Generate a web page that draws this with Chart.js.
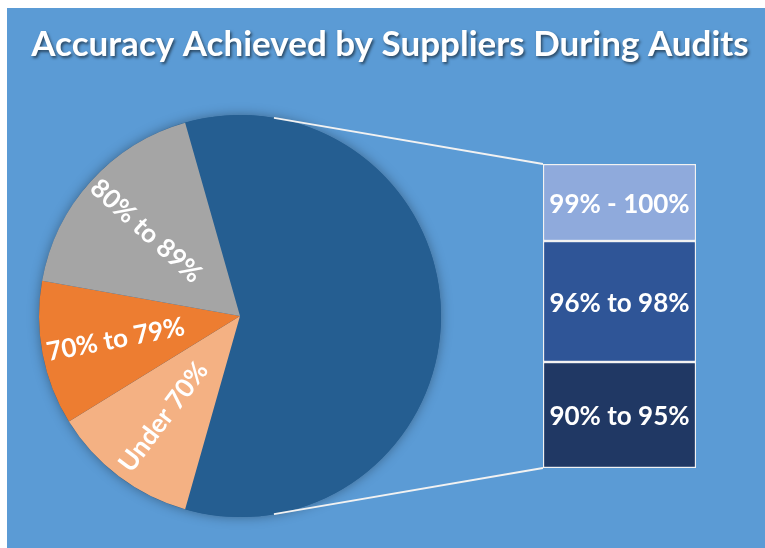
<!DOCTYPE html>
<html>
<head>
<meta charset="utf-8">
<script src="https://cdn.jsdelivr.net/npm/chart.js@4.4.1/dist/chart.umd.min.js"></script>
<style>
    html, body { margin: 0; padding: 0; background: #fff; }
    #wrap { position: relative; width: 765px; height: 548px; overflow: hidden; }
    #bg { position: absolute; left: 7px; top: 8px; right: 0; bottom: 0; background: #5B9BD5; }
    canvas { position: absolute; left: 0; top: 0; }
</style>
</head>
<body>
<div id="wrap">
    <div id="bg"></div>
    <canvas id="pie-chart" width="765" height="548"></canvas>
    <canvas id="bar-chart" width="765" height="548"></canvas>
</div>
<script>
// --- Data ---
const titleText = 'Accuracy Achieved by Suppliers During Audits';
const pieLabels = ['Under 70%', '70% to 79%', '80% to 89%'];
const pieValues = [11.8, 11.6, 17.8];
const barLabels = ['90% to 95%', '96% to 98%', '99% - 100%'];
const barValues = [20.5, 23.4, 14.9];
const otherLabel = 'Other';

const pieColors = ['#F4B183', '#ED7D31', '#A5A5A5'];
const otherColor = '#255E91';
const barColors = ['#203864', '#2F5597', '#8FAADC'];

const otherTotal = barValues.reduce((a, b) => a + b, 0);
const grandTotal = otherTotal + pieValues.reduce((a, b) => a + b, 0);
const otherSweep = otherTotal / grandTotal * 360; // degrees

// soft shadow under the pie
const pieShadow = {
    id: 'pieShadow',
    beforeDatasetsDraw(chart) {
        const arc = chart.getDatasetMeta(0).data[0];
        if (!arc) return;
        const ctx = chart.ctx;
        ctx.save();
        ctx.shadowColor = 'rgba(0,0,0,0.35)';
        ctx.shadowBlur = 12;
        ctx.fillStyle = otherColor;
        ctx.beginPath();
        ctx.arc(arc.x, arc.y, arc.outerRadius, 0, Math.PI * 2);
        ctx.fill();
        ctx.restore();
    }
};

// rotated labels on the small slices
const pieSliceLabels = {
    id: 'pieSliceLabels',
    afterDatasetsDraw(chart) {
        const ctx = chart.ctx;
        const meta = chart.getDatasetMeta(0);
        ctx.save();
        ctx.font = 'bold 26px Lato';
        ctx.fillStyle = '#fff';
        ctx.textAlign = 'center';
        ctx.textBaseline = 'middle';
        meta.data.forEach((arc, i) => {
            if (i === 0) return; // the "other" slice has no label
            const mid = (arc.startAngle + arc.endAngle) / 2;
            const r = arc.outerRadius * 0.63;
            ctx.save();
            ctx.translate(arc.x + r * Math.cos(mid), arc.y + r * Math.sin(mid));
            ctx.rotate(mid + Math.PI);
            ctx.fillText(chart.data.labels[i], 0, 0);
            ctx.restore();
        });
        ctx.restore();
    }
};

const pieChart = new Chart(document.getElementById('pie-chart'), {
    type: 'pie',
    data: {
        labels: [otherLabel, ...pieLabels],
        datasets: [{
            data: [otherTotal, ...pieValues],
            backgroundColor: [otherColor, ...pieColors],
            borderWidth: 0
        }]
    },
    options: {
        responsive: false,
        animation: false,
        rotation: 90 - otherSweep / 2,
        layout: { padding: { left: 39, right: 324, top: 115, bottom: 31 } },
        plugins: {
            legend: { display: false },
            tooltip: { enabled: false }
        }
    },
    plugins: [pieShadow, pieSliceLabels]
});

// tangent from an outside point to the pie circle
function tangentPoint(cx, cy, r, px, py, side) {
    const dx = px - cx, dy = py - cy;
    const d = Math.hypot(dx, dy);
    const a = Math.atan2(dy, dx) + side * Math.acos(r / d);
    return [cx + r * Math.cos(a), cy + r * Math.sin(a)];
}

// white lines joining the pie to the stacked bar
const connectors = {
    id: 'connectors',
    beforeDatasetsDraw(chart) {
        const arc = pieChart.getDatasetMeta(0).data[0];
        const top = chart.getDatasetMeta(chart.data.datasets.length - 1).data[0];
        const bottom = chart.getDatasetMeta(0).data[0];
        if (!arc || !top || !bottom) return;
        const leftX = top.x - top.width / 2;
        const p1 = tangentPoint(arc.x, arc.y, arc.outerRadius, leftX, top.y, -1);
        const p2 = tangentPoint(arc.x, arc.y, arc.outerRadius, leftX, bottom.base, 1);
        const ctx = chart.ctx;
        ctx.save();
        ctx.strokeStyle = '#F2F2F2';
        ctx.lineWidth = 1.8;
        ctx.beginPath();
        ctx.moveTo(p1[0], p1[1]);
        ctx.lineTo(leftX, top.y);
        ctx.moveTo(p2[0], p2[1]);
        ctx.lineTo(leftX, bottom.base);
        ctx.stroke();
        ctx.restore();
    }
};

const barSegmentLabels = {
    id: 'barSegmentLabels',
    afterDatasetsDraw(chart) {
        const ctx = chart.ctx;
        ctx.save();
        ctx.font = 'bold 26px Lato';
        ctx.fillStyle = '#fff';
        ctx.textAlign = 'center';
        ctx.textBaseline = 'middle';
        chart.data.datasets.forEach((ds, i) => {
            const el = chart.getDatasetMeta(i).data[0];
            ctx.fillText(ds.label, el.x, (el.y + el.base) / 2 + 2);
        });
        ctx.restore();
    }
};

const chartTitle = {
    id: 'chartTitle',
    afterDraw(chart) {
        const ctx = chart.ctx;
        ctx.save();
        ctx.font = 'bold 35px Lato';
        ctx.fillStyle = '#fff';
        ctx.textAlign = 'center';
        ctx.textBaseline = 'middle';
        ctx.shadowColor = 'rgba(0,0,0,0.55)';
        ctx.shadowBlur = 3;
        ctx.shadowOffsetX = 1.5;
        ctx.shadowOffsetY = 2;
        ctx.fillText(titleText, 390, 45);
        ctx.restore();
    }
};

new Chart(document.getElementById('bar-chart'), {
    type: 'bar',
    data: {
        labels: [otherLabel],
        datasets: barLabels.map((label, i) => ({
            label: label,
            data: [barValues[i]],
            backgroundColor: barColors[i],
            borderColor: '#F2F2F2',
            borderWidth: 1.5,
            borderSkipped: false,
            barPercentage: 1,
            categoryPercentage: 1
        }))
    },
    options: {
        responsive: false,
        animation: false,
        layout: { padding: { left: 543, right: 69, top: 164, bottom: 80 } },
        scales: {
            x: { stacked: true, display: false },
            y: { stacked: true, display: false, min: 0, max: otherTotal }
        },
        plugins: {
            legend: { display: false },
            tooltip: { enabled: false }
        }
    },
    plugins: [connectors, barSegmentLabels, chartTitle]
});
</script>
</body>
</html>
